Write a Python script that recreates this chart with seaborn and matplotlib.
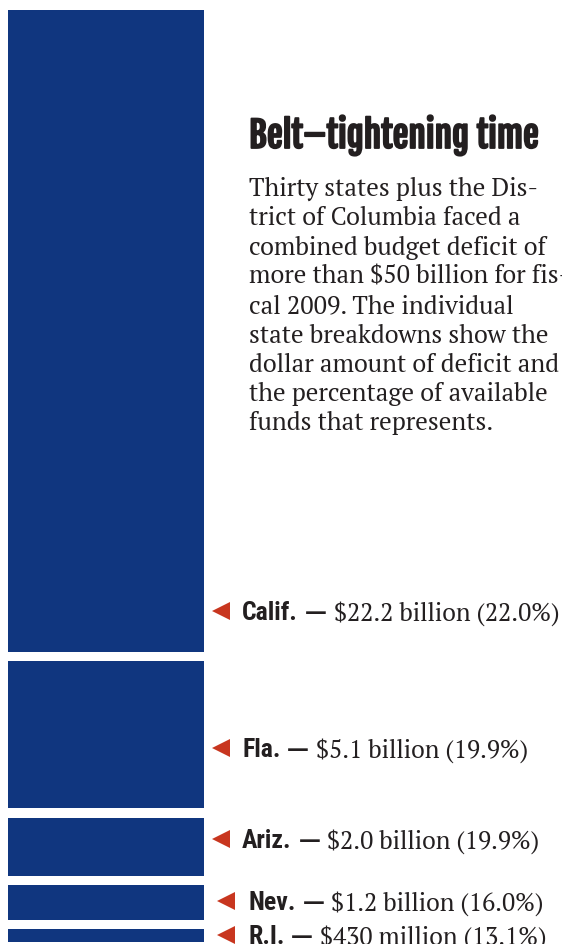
import matplotlib
matplotlib.use("Agg")
import matplotlib.pyplot as plt
import matplotlib.transforms as mtransforms
import matplotlib.patheffects as pe
import seaborn as sns
import pandas as pd
from matplotlib import font_manager

# ---- data ----
states = ["Calif.", "Fla.", "Ariz.", "Nev.", "R.I."]
deficit_billions = [22.2, 5.1, 2.0, 1.2, 0.43]
amount_labels = ["$22.2 billion", "$5.1 billion", "$2.0 billion", "$1.2 billion", "$430 million"]
pct_of_funds = [22.0, 19.9, 19.9, 16.0, 13.1]

title = "Belt\u2013tightening time"
body_lines = [
    "Thirty states plus the Dis-",
    "trict of Columbia faced a",
    "combined budget deficit of",
    "more than $50 billion for fis-",
    "cal 2009. The individual",
    "state breakdowns show the",
    "dollar amount of deficit and",
    "the percentage of available",
    "funds that represents.",
]

# ---- layout (pixels) ----
W, H = 562, 944
px_per_b = 28.9
gap_px = 9.5
label_shift_px = [280, 13, -8, -2, -1]   # label offset from block centre
arrow_x_px = [221, 221, 221, 226, 226]
text_x_px = [242, 242, 242, 248, 248]

BLUE = "#10367f"
RED = "#c8361f"
INK = "#231f20"

sns.set_theme(style="white")
avail = {f.name for f in font_manager.fontManager.ttflist}
def pick(*names):
    for n in names:
        if n in avail:
            return n
    return "DejaVu Sans"
TITLE_FONT = pick("Fjalla One", "Antonio", "Barlow Condensed")
LABEL_FONT = pick("Roboto Condensed", "IBM Plex Sans Condensed", "DejaVu Sans")
SERIF = pick("PT Serif", "Source Serif 4", "DejaVu Serif")

fig = plt.figure(figsize=(W / 100, H / 100), dpi=100)
fig.patch.set_facecolor("white")
ax = fig.add_axes([8 / W, 0, 196 / W, (H - 10) / H])
ax.set_axis_off()
renderer = fig.canvas.get_renderer()

def fit_size(text, family, weight, target_px):
    t = fig.text(0, 0, text, fontsize=10, fontfamily=family, fontweight=weight)
    w = t.get_window_extent(renderer=renderer).width
    t.remove()
    return 10 * target_px / w

gap = gap_px / px_per_b
bottoms = []
pos = 0.0
for v in deficit_billions:
    bottoms.append(pos)
    pos += v + gap
df = pd.DataFrame({"state": states, "value": deficit_billions, "bottom": bottoms})

ax.bar([0] * len(df), df["value"], bottom=df["bottom"], width=1.0, color=BLUE, linewidth=0)
ax.set_xlim(-0.5, 0.5)
ax.set_ylim((H - 10) / px_per_b, 0)

trans = mtransforms.blended_transform_factory(fig.transFigure, ax.transData)

lab_size = fit_size("Calif.", LABEL_FONT, "bold", 56)
dash_size = fit_size("\u2014", "DejaVu Sans", "bold", 22)
val_size = fit_size("$22.2 billion (22.0%)", SERIF, "normal", 226)

for i, row in df.iterrows():
    yc = row["bottom"] + row["value"] / 2 + label_shift_px[i] / px_per_b
    ax.plot([arrow_x_px[i] / W], [yc], marker="<", markersize=13, color=RED,
            transform=trans, clip_on=False, markeredgewidth=0)
    t1 = ax.text(text_x_px[i] / W, yc, row["state"], transform=trans, fontsize=lab_size,
                 fontfamily=LABEL_FONT, fontweight="bold", color=INK,
                 va="center_baseline", ha="left")
    bb = t1.get_window_extent(renderer=renderer)
    t2 = ax.text((bb.x1 + 7) / W, yc, "\u2014", transform=trans, fontsize=dash_size,
                 fontfamily="DejaVu Sans", fontweight="bold", color=INK,
                 va="center_baseline", ha="left")
    bb2 = t2.get_window_extent(renderer=renderer)
    ax.text((bb2.x1 + 7) / W, yc, f"{amount_labels[i]} ({pct_of_funds[i]:.1f}%)", transform=trans,
            fontsize=val_size, fontfamily=SERIF, color=INK, va="center_baseline", ha="left")

title_size = fit_size(title, TITLE_FONT, "bold", 290)
fig.text(249 / W, 1 - 148 / H, title, fontsize=title_size, fontfamily=TITLE_FONT, fontweight="bold",
         color=INK, ha="left", va="baseline",
         path_effects=[pe.withStroke(linewidth=1.3, foreground=INK)])
body_size = fit_size(body_lines[0], SERIF, "normal", 290)
for k, line in enumerate(body_lines):
    fig.text(249 / W, 1 - (196 + k * 29.3) / H, line, fontsize=body_size, fontfamily=SERIF,
             color=INK, ha="left", va="baseline")

fig.savefig("out.png", dpi=100, facecolor="white")
